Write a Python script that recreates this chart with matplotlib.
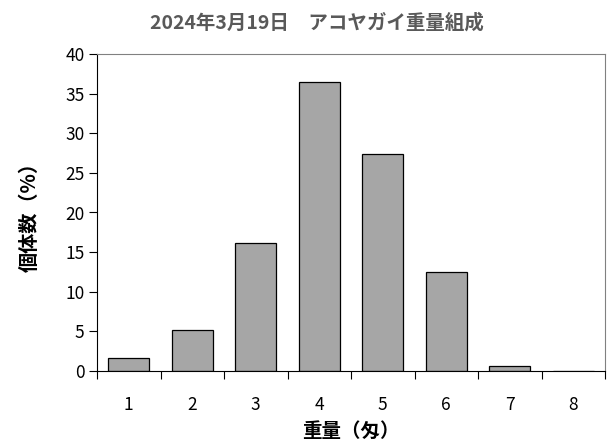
import numpy as np
import matplotlib
matplotlib.use("Agg")
import matplotlib.pyplot as plt

plt.rcParams['font.family'] = ['Noto Sans CJK JP', 'DejaVu Sans']

# 重量階級ごとの個体数割合
weight_class = ['1', '2', '3', '4', '5', '6', '7', '8']
percent = [1.6, 5.2, 16.1, 36.5, 27.4, 12.5, 0.6, 0.0]

fig = plt.figure(figsize=(6.11, 4.48), dpi=100)
ax = fig.add_axes([97 / 611, 1 - 371 / 448, 508 / 611, 317 / 448])

x = np.arange(len(weight_class))
ax.bar(x, percent, width=0.645, color='#A6A6A6', edgecolor='black', linewidth=0.9)

ax.set_xlim(-0.5, len(weight_class) - 0.5)
ax.set_ylim(0, 40)
ax.set_yticks(np.arange(0, 41, 5))
ax.set_xticks(x)
ax.set_xticklabels(weight_class)
# 目盛り線は階級の境目に
ax.set_xticks(np.arange(-0.5, len(weight_class), 1), minor=True)
ax.tick_params(axis='x', which='major', length=0, pad=18, labelsize=12.5)
ax.tick_params(axis='x', which='minor', length=6, width=0.8, direction='out')
ax.tick_params(axis='y', length=6, width=0.8, direction='out', labelsize=12.5, pad=3)

for side in ['top', 'right']:
    ax.spines[side].set_color('#808080')
ax.spines['left'].set_color('black')
ax.spines['bottom'].set_color('black')

fig.text(317 / 611, 1 - 23 / 448, '2024年3月19日　アコヤガイ重量組成', ha='center', va='center',
         fontsize=14, fontweight='bold', color='#595959')
ax.set_xlabel('重量（匁）', fontsize=14, fontweight='bold', labelpad=6)
ax.set_ylabel('個体数（%）', fontsize=14.5, fontweight='bold', labelpad=18)

fig.savefig('out.png', dpi=100)
